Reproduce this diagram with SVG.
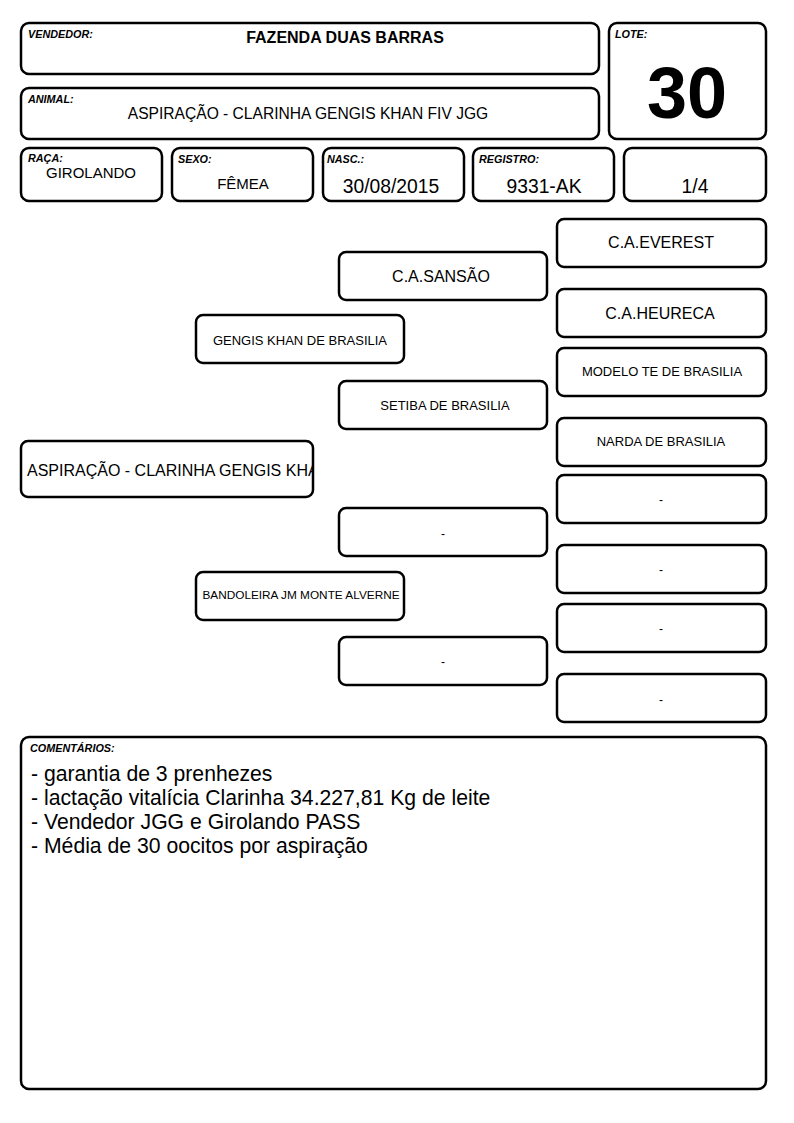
<svg xmlns="http://www.w3.org/2000/svg" width="794" height="1123" viewBox="0 0 794 1123">
<style>
.b{fill:#fff;stroke:#000;stroke-width:2.5}
text{font-family:"Liberation Sans",Arial,sans-serif;fill:#000}
.lbl{font-size:10.8px;font-weight:bold;font-style:italic}
.c{text-anchor:middle}
.v15{font-size:15px}
.v16{font-size:16px}
.p16{font-size:16px}
.v19{font-size:19.3px}
.s13{font-size:13px}
.s12{font-size:12px}
.s11{font-size:11.8px}
.cm{font-size:21.2px}
</style>
<defs>
<clipPath id="clipA"><rect x="22" y="442" width="290" height="54"/></clipPath>
</defs>
<rect width="794" height="1123" fill="#fff"/>
<g id="vendedor"><rect class="b" x="21" y="23" width="578" height="51" rx="8"/><text class="lbl" x="28" y="38">VENDEDOR:</text><text class="c" x="345" y="43" font-size="16" font-weight="bold">FAZENDA DUAS BARRAS</text></g>
<g id="animal"><rect class="b" x="21" y="88" width="578" height="51" rx="8"/><text class="lbl" x="28" y="103">ANIMAL:</text><text class="c" x="308" y="119" font-size="15.6">ASPIRAÇÃO - CLARINHA GENGIS KHAN FIV JGG</text></g>
<g id="lote"><rect class="b" x="609" y="23" width="157" height="116" rx="8"/><text class="lbl" x="615" y="38">LOTE:</text><text class="c" x="687" y="118" font-size="72" font-weight="bold">30</text></g>
<g id="raca"><rect class="b" x="21" y="148" width="141" height="53" rx="8"/><text class="lbl" x="28" y="162">RAÇA:</text><text class="c v15" x="91" y="178">GIROLANDO</text></g>
<g id="sexo"><rect class="b" x="172" y="148" width="141" height="53" rx="8"/><text class="lbl" x="178" y="163">SEXO:</text><text class="c v15" x="243" y="189">FÊMEA</text></g>
<g id="nasc"><rect class="b" x="323" y="148" width="141" height="53" rx="8"/><text class="lbl" x="327" y="163">NASC.:</text><text class="c v19" x="391" y="193">30/08/2015</text></g>
<g id="registro"><rect class="b" x="473" y="148" width="141" height="53" rx="8"/><text class="lbl" x="479" y="163">REGISTRO:</text><text class="c v19" x="544" y="193">9331-AK</text></g>
<g id="fracao"><rect class="b" x="624" y="148" width="142" height="53" rx="8"/><text class="c v19" x="695" y="193">1/4</text></g>
<g id="everest"><rect class="b" x="557" y="219" width="209" height="48" rx="7"/><text class="c p16" x="661" y="248">C.A.EVEREST</text></g>
<g id="sansao"><rect class="b" x="339" y="252" width="208" height="48" rx="7"/><text class="c p16" x="441" y="282">C.A.SANSÃO</text></g>
<g id="heureca"><rect class="b" x="557" y="289" width="209" height="48" rx="7"/><text class="c p16" x="660" y="319">C.A.HEURECA</text></g>
<g id="gengis"><rect class="b" x="196" y="315" width="208" height="48" rx="7"/><text class="c s13" x="300" y="345">GENGIS KHAN DE BRASILIA</text></g>
<g id="modelo"><rect class="b" x="557" y="348" width="209" height="48" rx="7"/><text class="c s13" x="662" y="376">MODELO TE DE BRASILIA</text></g>
<g id="setiba"><rect class="b" x="339" y="381" width="208" height="48" rx="7"/><text class="c s13" x="445" y="410">SETIBA DE BRASILIA</text></g>
<g id="narda"><rect class="b" x="557" y="418" width="209" height="48" rx="7"/><text class="c s13" x="661" y="446">NARDA DE BRASILIA</text></g>
<g id="aspiracao"><rect class="b" x="21" y="441" width="292" height="56" rx="7"/><text class="v16" x="27" y="476" clip-path="url(#clipA)">ASPIRAÇÃO - CLARINHA GENGIS KHAN FIV JGG</text></g>
<g id="d1"><rect class="b" x="557" y="475" width="209" height="48" rx="7"/><text class="c s12" x="661" y="504">-</text></g>
<g id="d2"><rect class="b" x="339" y="508" width="208" height="48" rx="7"/><text class="c s12" x="443" y="538">-</text></g>
<g id="d3"><rect class="b" x="557" y="545" width="209" height="48" rx="7"/><text class="c s12" x="661" y="574">-</text></g>
<g id="bandoleira"><rect class="b" x="196" y="572" width="208" height="48" rx="7"/><text class="c s11" x="301" y="599">BANDOLEIRA JM MONTE ALVERNE</text></g>
<g id="d4"><rect class="b" x="557" y="604" width="209" height="48" rx="7"/><text class="c s12" x="661" y="633">-</text></g>
<g id="d5"><rect class="b" x="339" y="637" width="208" height="48" rx="7"/><text class="c s12" x="443" y="666">-</text></g>
<g id="d6"><rect class="b" x="557" y="674" width="209" height="48" rx="7"/><text class="c s12" x="661" y="704">-</text></g>
<g id="connectors"></g>
<g id="comentarios"><rect class="b" x="21" y="737" width="745" height="352" rx="8"/><text class="lbl" x="30" y="752" font-size="11">COMENTÁRIOS:</text>
<text class="cm" x="31" y="781">- garantia de 3 prenhezes</text>
<text class="cm" x="31" y="805">- lactação vitalícia Clarinha 34.227,81 Kg de leite</text>
<text class="cm" x="31" y="829">- Vendedor JGG e Girolando PASS</text>
<text class="cm" x="31" y="853">- Média de 30 oocitos por aspiração</text></g>
</svg>
